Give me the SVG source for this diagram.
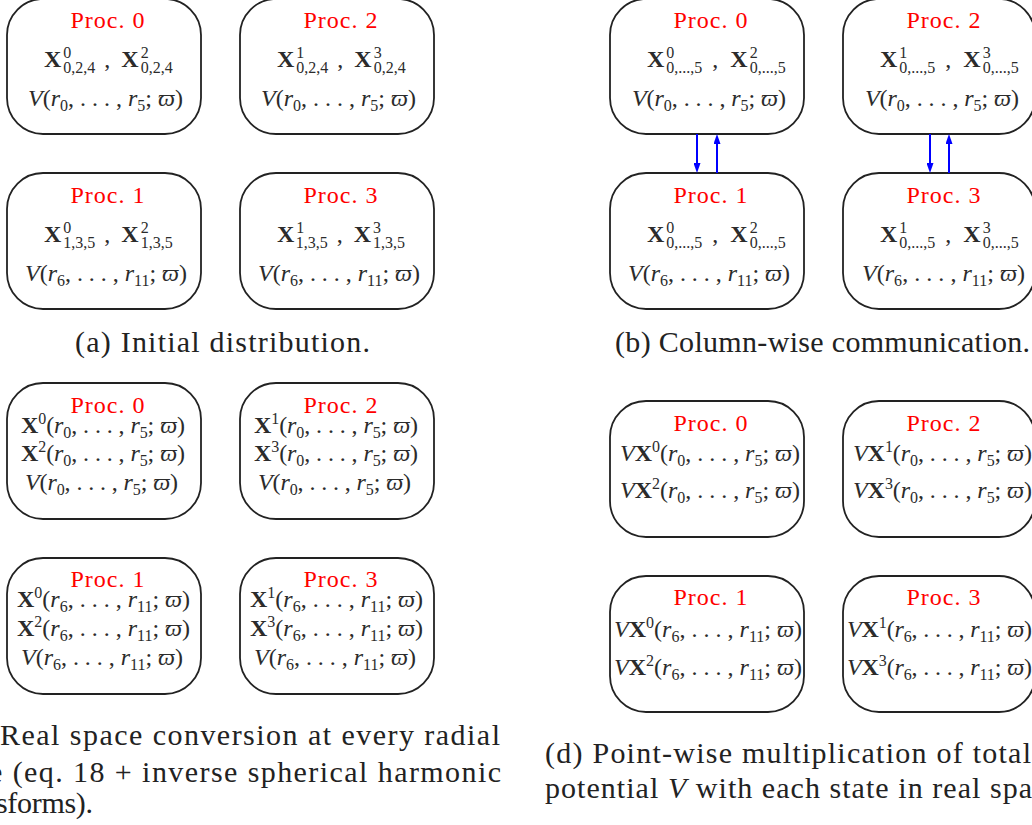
<svg xmlns="http://www.w3.org/2000/svg" width="1032" height="825" viewBox="0 0 1032 825" font-family="serif">
<style>
.box{fill:#fff;stroke:#222;stroke-width:1.8}
.pl{font-size:24px;fill:#ff0000;text-anchor:middle}
.m{font-size:24px;fill:#2b2b2b}
.cap{font-size:30px;fill:#222}
</style>
<defs>
<marker id="ah" viewBox="0 0 10 7" refX="0" refY="3.5" markerWidth="10" markerHeight="7" markerUnits="userSpaceOnUse" orient="auto"><path d="M0,0 L10,3.5 L0,7 z" fill="#0000ff"/></marker>
</defs>

<g id="a-proc0">
<rect class="box" x="7" y="-1" width="194" height="135" rx="36"/>
<text class="pl" x="107.5" y="28" textLength="74" lengthAdjust="spacing">Proc. 0</text>
<text class="m" x="44" y="67"><tspan font-weight="bold">X</tspan><tspan font-size="16" dx="2" dy="-9">0</tspan><tspan font-size="16" dx="-8" dy="15">0,2,4</tspan><tspan dx="9" dy="-6">,</tspan><tspan font-weight="bold" dx="11">X</tspan><tspan font-size="16" dx="2" dy="-9">2</tspan><tspan font-size="16" dx="-8" dy="15">0,2,4</tspan></text>
<text class="m" x="28" y="106" textLength="155" lengthAdjust="spacing"><tspan font-style="italic">V</tspan>(<tspan font-style="italic">r</tspan><tspan font-size="16" dy="5">0</tspan><tspan dy="-5">, . . . , </tspan><tspan font-style="italic">r</tspan><tspan font-size="16" dy="5">5</tspan><tspan dy="-5">; </tspan><tspan font-style="italic">ϖ</tspan>)</text>
</g>
<g id="a-proc2">
<rect class="box" x="240" y="-1" width="194" height="135" rx="36"/>
<text class="pl" x="340.5" y="28" textLength="74" lengthAdjust="spacing">Proc. 2</text>
<text class="m" x="277" y="67"><tspan font-weight="bold">X</tspan><tspan font-size="16" dx="2" dy="-9">1</tspan><tspan font-size="16" dx="-8" dy="15">0,2,4</tspan><tspan dx="9" dy="-6">,</tspan><tspan font-weight="bold" dx="11">X</tspan><tspan font-size="16" dx="2" dy="-9">3</tspan><tspan font-size="16" dx="-8" dy="15">0,2,4</tspan></text>
<text class="m" x="261" y="106" textLength="155" lengthAdjust="spacing"><tspan font-style="italic">V</tspan>(<tspan font-style="italic">r</tspan><tspan font-size="16" dy="5">0</tspan><tspan dy="-5">, . . . , </tspan><tspan font-style="italic">r</tspan><tspan font-size="16" dy="5">5</tspan><tspan dy="-5">; </tspan><tspan font-style="italic">ϖ</tspan>)</text>
</g>
<g id="a-proc1">
<rect class="box" x="7" y="173" width="194" height="136" rx="36"/>
<text class="pl" x="107.5" y="203" textLength="74" lengthAdjust="spacing">Proc. 1</text>
<text class="m" x="44" y="242"><tspan font-weight="bold">X</tspan><tspan font-size="16" dx="2" dy="-9">0</tspan><tspan font-size="16" dx="-8" dy="15">1,3,5</tspan><tspan dx="9" dy="-6">,</tspan><tspan font-weight="bold" dx="11">X</tspan><tspan font-size="16" dx="2" dy="-9">2</tspan><tspan font-size="16" dx="-8" dy="15">1,3,5</tspan></text>
<text class="m" x="25" y="281" textLength="162" lengthAdjust="spacing"><tspan font-style="italic">V</tspan>(<tspan font-style="italic">r</tspan><tspan font-size="16" dy="5">6</tspan><tspan dy="-5">, . . . , </tspan><tspan font-style="italic">r</tspan><tspan font-size="16" dy="5">11</tspan><tspan dy="-5">; </tspan><tspan font-style="italic">ϖ</tspan>)</text>
</g>
<g id="a-proc3">
<rect class="box" x="240" y="173" width="194" height="136" rx="36"/>
<text class="pl" x="340.5" y="203" textLength="74" lengthAdjust="spacing">Proc. 3</text>
<text class="m" x="277" y="242"><tspan font-weight="bold">X</tspan><tspan font-size="16" dx="2" dy="-9">1</tspan><tspan font-size="16" dx="-8" dy="15">1,3,5</tspan><tspan dx="9" dy="-6">,</tspan><tspan font-weight="bold" dx="11">X</tspan><tspan font-size="16" dx="2" dy="-9">3</tspan><tspan font-size="16" dx="-8" dy="15">1,3,5</tspan></text>
<text class="m" x="258" y="281" textLength="162" lengthAdjust="spacing"><tspan font-style="italic">V</tspan>(<tspan font-style="italic">r</tspan><tspan font-size="16" dy="5">6</tspan><tspan dy="-5">, . . . , </tspan><tspan font-style="italic">r</tspan><tspan font-size="16" dy="5">11</tspan><tspan dy="-5">; </tspan><tspan font-style="italic">ϖ</tspan>)</text>
</g>

<g id="b-proc0">
<rect class="box" x="610" y="-1" width="194" height="135" rx="36"/>
<text class="pl" x="710.5" y="28" textLength="74" lengthAdjust="spacing">Proc. 0</text>
<text class="m" x="647" y="67"><tspan font-weight="bold">X</tspan><tspan font-size="16" dx="2" dy="-9">0</tspan><tspan font-size="16" dx="-8" dy="15">0,...,5</tspan><tspan dx="10" dy="-6">,</tspan><tspan font-weight="bold" dx="12">X</tspan><tspan font-size="16" dx="2" dy="-9">2</tspan><tspan font-size="16" dx="-8" dy="15">0,...,5</tspan></text>
<text class="m" x="632" y="106" textLength="154" lengthAdjust="spacing"><tspan font-style="italic">V</tspan>(<tspan font-style="italic">r</tspan><tspan font-size="16" dy="5">0</tspan><tspan dy="-5">, . . . , </tspan><tspan font-style="italic">r</tspan><tspan font-size="16" dy="5">5</tspan><tspan dy="-5">; </tspan><tspan font-style="italic">ϖ</tspan>)</text>
</g>
<g id="b-proc2">
<rect class="box" x="843" y="-1" width="192" height="135" rx="36"/>
<text class="pl" x="943.5" y="28" textLength="74" lengthAdjust="spacing">Proc. 2</text>
<text class="m" x="880" y="67"><tspan font-weight="bold">X</tspan><tspan font-size="16" dx="2" dy="-9">1</tspan><tspan font-size="16" dx="-8" dy="15">0,...,5</tspan><tspan dx="10" dy="-6">,</tspan><tspan font-weight="bold" dx="12">X</tspan><tspan font-size="16" dx="2" dy="-9">3</tspan><tspan font-size="16" dx="-8" dy="15">0,...,5</tspan></text>
<text class="m" x="865" y="106" textLength="154" lengthAdjust="spacing"><tspan font-style="italic">V</tspan>(<tspan font-style="italic">r</tspan><tspan font-size="16" dy="5">0</tspan><tspan dy="-5">, . . . , </tspan><tspan font-style="italic">r</tspan><tspan font-size="16" dy="5">5</tspan><tspan dy="-5">; </tspan><tspan font-style="italic">ϖ</tspan>)</text>
</g>
<g id="b-proc1">
<rect class="box" x="610" y="173" width="194" height="136" rx="36"/>
<text class="pl" x="710.5" y="203" textLength="74" lengthAdjust="spacing">Proc. 1</text>
<text class="m" x="647" y="242"><tspan font-weight="bold">X</tspan><tspan font-size="16" dx="2" dy="-9">0</tspan><tspan font-size="16" dx="-8" dy="15">0,...,5</tspan><tspan dx="10" dy="-6">,</tspan><tspan font-weight="bold" dx="12">X</tspan><tspan font-size="16" dx="2" dy="-9">2</tspan><tspan font-size="16" dx="-8" dy="15">0,...,5</tspan></text>
<text class="m" x="628" y="281" textLength="162" lengthAdjust="spacing"><tspan font-style="italic">V</tspan>(<tspan font-style="italic">r</tspan><tspan font-size="16" dy="5">6</tspan><tspan dy="-5">, . . . , </tspan><tspan font-style="italic">r</tspan><tspan font-size="16" dy="5">11</tspan><tspan dy="-5">; </tspan><tspan font-style="italic">ϖ</tspan>)</text>
</g>
<g id="b-proc3">
<rect class="box" x="843" y="173" width="192" height="136" rx="36"/>
<text class="pl" x="943.5" y="203" textLength="74" lengthAdjust="spacing">Proc. 3</text>
<text class="m" x="880" y="242"><tspan font-weight="bold">X</tspan><tspan font-size="16" dx="2" dy="-9">1</tspan><tspan font-size="16" dx="-8" dy="15">0,...,5</tspan><tspan dx="10" dy="-6">,</tspan><tspan font-weight="bold" dx="12">X</tspan><tspan font-size="16" dx="2" dy="-9">3</tspan><tspan font-size="16" dx="-8" dy="15">0,...,5</tspan></text>
<text class="m" x="862" y="281" textLength="163" lengthAdjust="spacing"><tspan font-style="italic">V</tspan>(<tspan font-style="italic">r</tspan><tspan font-size="16" dy="5">6</tspan><tspan dy="-5">, . . . , </tspan><tspan font-style="italic">r</tspan><tspan font-size="16" dy="5">11</tspan><tspan dy="-5">; </tspan><tspan font-style="italic">ϖ</tspan>)</text>
</g>

<g id="connectors" stroke="#0000ff" stroke-width="2" fill="none">
<path d="M697,134 L697,163" marker-end="url(#ah)"/>
<path d="M717,173 L717,144" marker-end="url(#ah)"/>
<path d="M930,134 L930,163" marker-end="url(#ah)"/>
<path d="M949,173 L949,144" marker-end="url(#ah)"/>
</g>

<g id="c-proc0">
<rect class="box" x="7" y="383" width="194" height="136" rx="36"/>
<text class="pl" x="107.5" y="413" textLength="74" lengthAdjust="spacing">Proc. 0</text>
<text class="m" x="21" y="433" textLength="164" lengthAdjust="spacing"><tspan font-weight="bold">X</tspan><tspan font-size="16" dy="-9">0</tspan><tspan dy="9">(</tspan><tspan font-style="italic">r</tspan><tspan font-size="16" dy="5">0</tspan><tspan dy="-5">, . . . , </tspan><tspan font-style="italic">r</tspan><tspan font-size="16" dy="5">5</tspan><tspan dy="-5">; </tspan><tspan font-style="italic">ϖ</tspan>)</text>
<text class="m" x="21" y="461" textLength="164" lengthAdjust="spacing"><tspan font-weight="bold">X</tspan><tspan font-size="16" dy="-9">2</tspan><tspan dy="9">(</tspan><tspan font-style="italic">r</tspan><tspan font-size="16" dy="5">0</tspan><tspan dy="-5">, . . . , </tspan><tspan font-style="italic">r</tspan><tspan font-size="16" dy="5">5</tspan><tspan dy="-5">; </tspan><tspan font-style="italic">ϖ</tspan>)</text>
<text class="m" x="25" y="490" textLength="153" lengthAdjust="spacing"><tspan font-style="italic">V</tspan>(<tspan font-style="italic">r</tspan><tspan font-size="16" dy="5">0</tspan><tspan dy="-5">, . . . , </tspan><tspan font-style="italic">r</tspan><tspan font-size="16" dy="5">5</tspan><tspan dy="-5">; </tspan><tspan font-style="italic">ϖ</tspan>)</text>
</g>
<g id="c-proc2">
<rect class="box" x="240" y="383" width="194" height="136" rx="36"/>
<text class="pl" x="340.5" y="413" textLength="74" lengthAdjust="spacing">Proc. 2</text>
<text class="m" x="254" y="433" textLength="164" lengthAdjust="spacing"><tspan font-weight="bold">X</tspan><tspan font-size="16" dy="-9">1</tspan><tspan dy="9">(</tspan><tspan font-style="italic">r</tspan><tspan font-size="16" dy="5">0</tspan><tspan dy="-5">, . . . , </tspan><tspan font-style="italic">r</tspan><tspan font-size="16" dy="5">5</tspan><tspan dy="-5">; </tspan><tspan font-style="italic">ϖ</tspan>)</text>
<text class="m" x="254" y="461" textLength="164" lengthAdjust="spacing"><tspan font-weight="bold">X</tspan><tspan font-size="16" dy="-9">3</tspan><tspan dy="9">(</tspan><tspan font-style="italic">r</tspan><tspan font-size="16" dy="5">0</tspan><tspan dy="-5">, . . . , </tspan><tspan font-style="italic">r</tspan><tspan font-size="16" dy="5">5</tspan><tspan dy="-5">; </tspan><tspan font-style="italic">ϖ</tspan>)</text>
<text class="m" x="258" y="490" textLength="153" lengthAdjust="spacing"><tspan font-style="italic">V</tspan>(<tspan font-style="italic">r</tspan><tspan font-size="16" dy="5">0</tspan><tspan dy="-5">, . . . , </tspan><tspan font-style="italic">r</tspan><tspan font-size="16" dy="5">5</tspan><tspan dy="-5">; </tspan><tspan font-style="italic">ϖ</tspan>)</text>
</g>
<g id="c-proc1">
<rect class="box" x="7" y="558" width="194" height="136" rx="36"/>
<text class="pl" x="107.5" y="587" textLength="74" lengthAdjust="spacing">Proc. 1</text>
<text class="m" x="17" y="607" textLength="173" lengthAdjust="spacing"><tspan font-weight="bold">X</tspan><tspan font-size="16" dy="-9">0</tspan><tspan dy="9">(</tspan><tspan font-style="italic">r</tspan><tspan font-size="16" dy="5">6</tspan><tspan dy="-5">, . . . , </tspan><tspan font-style="italic">r</tspan><tspan font-size="16" dy="5">11</tspan><tspan dy="-5">; </tspan><tspan font-style="italic">ϖ</tspan>)</text>
<text class="m" x="17" y="636" textLength="173" lengthAdjust="spacing"><tspan font-weight="bold">X</tspan><tspan font-size="16" dy="-9">2</tspan><tspan dy="9">(</tspan><tspan font-style="italic">r</tspan><tspan font-size="16" dy="5">6</tspan><tspan dy="-5">, . . . , </tspan><tspan font-style="italic">r</tspan><tspan font-size="16" dy="5">11</tspan><tspan dy="-5">; </tspan><tspan font-style="italic">ϖ</tspan>)</text>
<text class="m" x="21" y="665" textLength="162" lengthAdjust="spacing"><tspan font-style="italic">V</tspan>(<tspan font-style="italic">r</tspan><tspan font-size="16" dy="5">6</tspan><tspan dy="-5">, . . . , </tspan><tspan font-style="italic">r</tspan><tspan font-size="16" dy="5">11</tspan><tspan dy="-5">; </tspan><tspan font-style="italic">ϖ</tspan>)</text>
</g>
<g id="c-proc3">
<rect class="box" x="240" y="558" width="194" height="136" rx="36"/>
<text class="pl" x="340.5" y="587" textLength="74" lengthAdjust="spacing">Proc. 3</text>
<text class="m" x="250" y="607" textLength="173" lengthAdjust="spacing"><tspan font-weight="bold">X</tspan><tspan font-size="16" dy="-9">1</tspan><tspan dy="9">(</tspan><tspan font-style="italic">r</tspan><tspan font-size="16" dy="5">6</tspan><tspan dy="-5">, . . . , </tspan><tspan font-style="italic">r</tspan><tspan font-size="16" dy="5">11</tspan><tspan dy="-5">; </tspan><tspan font-style="italic">ϖ</tspan>)</text>
<text class="m" x="250" y="636" textLength="173" lengthAdjust="spacing"><tspan font-weight="bold">X</tspan><tspan font-size="16" dy="-9">3</tspan><tspan dy="9">(</tspan><tspan font-style="italic">r</tspan><tspan font-size="16" dy="5">6</tspan><tspan dy="-5">, . . . , </tspan><tspan font-style="italic">r</tspan><tspan font-size="16" dy="5">11</tspan><tspan dy="-5">; </tspan><tspan font-style="italic">ϖ</tspan>)</text>
<text class="m" x="254" y="665" textLength="162" lengthAdjust="spacing"><tspan font-style="italic">V</tspan>(<tspan font-style="italic">r</tspan><tspan font-size="16" dy="5">6</tspan><tspan dy="-5">, . . . , </tspan><tspan font-style="italic">r</tspan><tspan font-size="16" dy="5">11</tspan><tspan dy="-5">; </tspan><tspan font-style="italic">ϖ</tspan>)</text>
</g>

<g id="d-proc0">
<rect class="box" x="610" y="401" width="194" height="136" rx="36"/>
<text class="pl" x="710.5" y="431" textLength="74" lengthAdjust="spacing">Proc. 0</text>
<text class="m" x="620" y="461" textLength="180" lengthAdjust="spacing"><tspan font-style="italic">V</tspan><tspan font-weight="bold">X</tspan><tspan font-size="16" dy="-9">0</tspan><tspan dy="9">(</tspan><tspan font-style="italic">r</tspan><tspan font-size="16" dy="5">0</tspan><tspan dy="-5">, . . . , </tspan><tspan font-style="italic">r</tspan><tspan font-size="16" dy="5">5</tspan><tspan dy="-5">; </tspan><tspan font-style="italic">ϖ</tspan>)</text>
<text class="m" x="620" y="498" textLength="180" lengthAdjust="spacing"><tspan font-style="italic">V</tspan><tspan font-weight="bold">X</tspan><tspan font-size="16" dy="-9">2</tspan><tspan dy="9">(</tspan><tspan font-style="italic">r</tspan><tspan font-size="16" dy="5">0</tspan><tspan dy="-5">, . . . , </tspan><tspan font-style="italic">r</tspan><tspan font-size="16" dy="5">5</tspan><tspan dy="-5">; </tspan><tspan font-style="italic">ϖ</tspan>)</text>
</g>
<g id="d-proc2">
<rect class="box" x="843" y="401" width="192" height="136" rx="36"/>
<text class="pl" x="943.5" y="431" textLength="74" lengthAdjust="spacing">Proc. 2</text>
<text class="m" x="853" y="461" textLength="179" lengthAdjust="spacing"><tspan font-style="italic">V</tspan><tspan font-weight="bold">X</tspan><tspan font-size="16" dy="-9">1</tspan><tspan dy="9">(</tspan><tspan font-style="italic">r</tspan><tspan font-size="16" dy="5">0</tspan><tspan dy="-5">, . . . , </tspan><tspan font-style="italic">r</tspan><tspan font-size="16" dy="5">5</tspan><tspan dy="-5">; </tspan><tspan font-style="italic">ϖ</tspan>)</text>
<text class="m" x="853" y="498" textLength="179" lengthAdjust="spacing"><tspan font-style="italic">V</tspan><tspan font-weight="bold">X</tspan><tspan font-size="16" dy="-9">3</tspan><tspan dy="9">(</tspan><tspan font-style="italic">r</tspan><tspan font-size="16" dy="5">0</tspan><tspan dy="-5">, . . . , </tspan><tspan font-style="italic">r</tspan><tspan font-size="16" dy="5">5</tspan><tspan dy="-5">; </tspan><tspan font-style="italic">ϖ</tspan>)</text>
</g>
<g id="d-proc1">
<rect class="box" x="610" y="576" width="194" height="136" rx="36"/>
<text class="pl" x="710.5" y="605" textLength="74" lengthAdjust="spacing">Proc. 1</text>
<text class="m" x="614" y="637" textLength="188" lengthAdjust="spacing"><tspan font-style="italic">V</tspan><tspan font-weight="bold">X</tspan><tspan font-size="16" dy="-9">0</tspan><tspan dy="9">(</tspan><tspan font-style="italic">r</tspan><tspan font-size="16" dy="5">6</tspan><tspan dy="-5">, . . . , </tspan><tspan font-style="italic">r</tspan><tspan font-size="16" dy="5">11</tspan><tspan dy="-5">; </tspan><tspan font-style="italic">ϖ</tspan>)</text>
<text class="m" x="614" y="675" textLength="188" lengthAdjust="spacing"><tspan font-style="italic">V</tspan><tspan font-weight="bold">X</tspan><tspan font-size="16" dy="-9">2</tspan><tspan dy="9">(</tspan><tspan font-style="italic">r</tspan><tspan font-size="16" dy="5">6</tspan><tspan dy="-5">, . . . , </tspan><tspan font-style="italic">r</tspan><tspan font-size="16" dy="5">11</tspan><tspan dy="-5">; </tspan><tspan font-style="italic">ϖ</tspan>)</text>
</g>
<g id="d-proc3">
<rect class="box" x="843" y="576" width="192" height="136" rx="36"/>
<text class="pl" x="943.5" y="605" textLength="74" lengthAdjust="spacing">Proc. 3</text>
<text class="m" x="847" y="637" textLength="185" lengthAdjust="spacing"><tspan font-style="italic">V</tspan><tspan font-weight="bold">X</tspan><tspan font-size="16" dy="-9">1</tspan><tspan dy="9">(</tspan><tspan font-style="italic">r</tspan><tspan font-size="16" dy="5">6</tspan><tspan dy="-5">, . . . , </tspan><tspan font-style="italic">r</tspan><tspan font-size="16" dy="5">11</tspan><tspan dy="-5">; </tspan><tspan font-style="italic">ϖ</tspan>)</text>
<text class="m" x="847" y="675" textLength="185" lengthAdjust="spacing"><tspan font-style="italic">V</tspan><tspan font-weight="bold">X</tspan><tspan font-size="16" dy="-9">3</tspan><tspan dy="9">(</tspan><tspan font-style="italic">r</tspan><tspan font-size="16" dy="5">6</tspan><tspan dy="-5">, . . . , </tspan><tspan font-style="italic">r</tspan><tspan font-size="16" dy="5">11</tspan><tspan dy="-5">; </tspan><tspan font-style="italic">ϖ</tspan>)</text>
</g>

<g id="captions">
<text class="cap" x="75" y="352" textLength="295" lengthAdjust="spacing">(a) Initial distribution.</text>
<text class="cap" x="615" y="352" textLength="415" lengthAdjust="spacing">(b) Column-wise communication.</text>
<text class="cap" x="0" y="745" textLength="500" lengthAdjust="spacing">Real space conversion at every radial</text>
<text class="cap" x="-11" y="782" textLength="512" lengthAdjust="spacing">e (eq. 18 + inverse spherical harmonic</text>
<text class="cap" x="-4" y="813" textLength="97" lengthAdjust="spacing">sforms).</text>
<text class="cap" x="545" y="763" textLength="486" lengthAdjust="spacing">(d) Point-wise multiplication of total</text>
<text class="cap" x="545" y="798" textLength="487" lengthAdjust="spacing">potential <tspan font-style="italic">V</tspan> with each state in real spa</text>
</g>
</svg>
